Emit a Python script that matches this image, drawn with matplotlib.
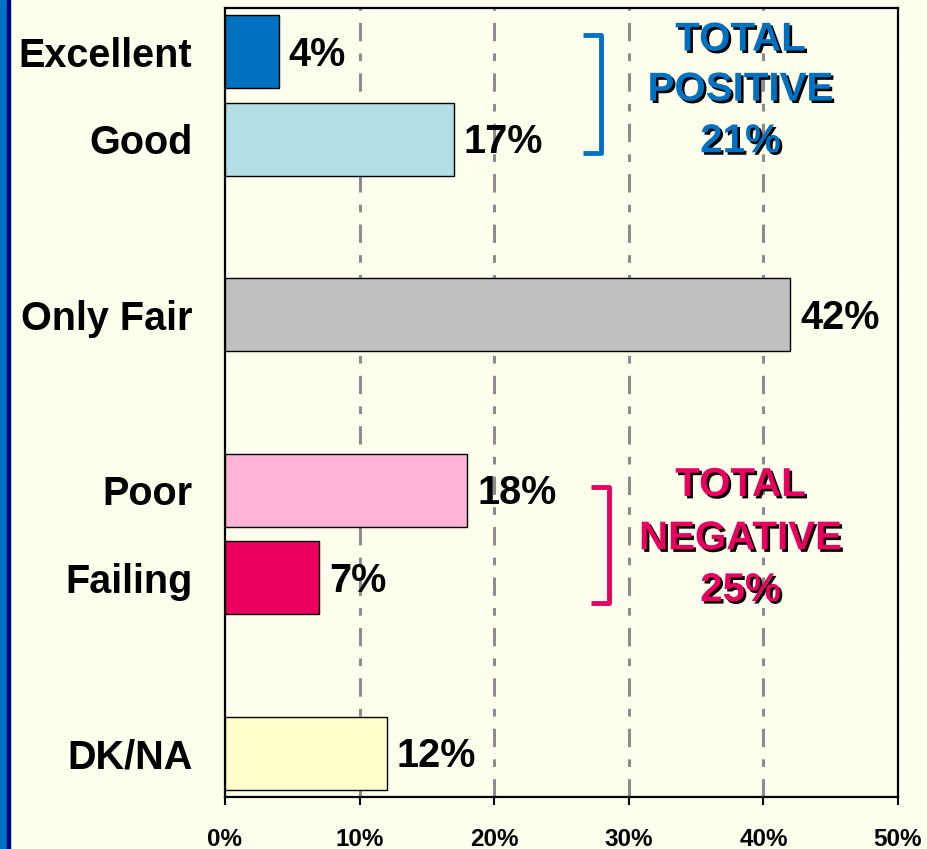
import matplotlib
matplotlib.use("Agg")
import matplotlib.pyplot as plt
import matplotlib.patheffects as pe
from matplotlib.patches import Rectangle

categories = ["Excellent", "Good", "Only Fair", "Poor", "Failing", "DK/NA"]
values = [4, 17, 42, 18, 7, 12]
xticks = [0, 10, 20, 30, 40, 50]
xtick_labels = ["0%", "10%", "20%", "30%", "40%", "50%"]
pos_title = ["TOTAL", "POSITIVE", "21%"]
neg_title = ["TOTAL", "NEGATIVE", "25%"]

# layout / style
ypos = [0, 1, 3, 5, 6, 8]
colors = ["#0070C0", "#B4DEE6", "#C0C0C0", "#FFB4D6", "#EC005E", "#FFFFCC"]
bg = "#FFFFEE"
blue = "#0070C0"
pink = "#E8005F"

plt.rcParams['font.family'] = ['Liberation Sans', 'DejaVu Sans']

fig = plt.figure(figsize=(9.27, 8.49), dpi=100, facecolor=bg)
ax = fig.add_axes([225/927, 1-797/849, (898-225)/927, (797-8)/849])
ax.set_facecolor(bg)

# left border strip
fig.patches.append(Rectangle((0, 0), 7/927, 1, transform=fig.transFigure, color="#0070C0", zorder=0))
fig.patches.append(Rectangle((7/927, 0), 2.5/927, 1, transform=fig.transFigure, color="#000080", zorder=0))

bars = ax.barh(ypos, values, height=0.83, color=colors, edgecolor="black", linewidth=1, zorder=3)
for v, y in zip(values, ypos):
    ax.annotate(f"{v}%", xy=(v, y), xytext=(7, -2), textcoords="offset points",
                ha="left", va="center", fontsize=28.5, fontweight="bold", color="black", zorder=5)

ax.set_xlim(0, 50)
ax.set_ylim(8.5, -0.5)
ax.set_yticks(ypos)
ax.set_yticklabels(categories, fontsize=28.5, fontweight="bold")
ax.tick_params(axis="y", length=0, pad=23.5)
ax.set_xticks(xticks)
ax.set_xticklabels(xtick_labels, fontsize=17.5, fontweight="bold")
ax.tick_params(axis="x", direction="out", length=6, width=1.5, pad=16)

for x in xticks[1:]:
    ax.axvline(x, color="#8C8C8C", linewidth=2.2, dashes=(6, 4, 2.5, 4), zorder=1)

for s in ax.spines.values():
    s.set_color("black")
    s.set_linewidth(1.6)

shadow = [pe.SimplePatchShadow(offset=(1.8, -1.8), shadow_rgbFace="black", alpha=1), pe.Normal()]

for txt, y in zip(pos_title, [-0.14, 0.43, 1.02]):
    ax.text(38.3, y, txt, color=blue, fontsize=29, fontweight="bold", ha="center", va="center",
            path_effects=shadow, zorder=5)
for txt, y in zip(neg_title, [4.94, 5.55, 6.14]):
    ax.text(38.3, y, txt, color=pink, fontsize=29, fontweight="bold", ha="center", va="center",
            path_effects=shadow, zorder=5)

# brackets
ax.plot([26.6, 27.9, 27.9, 26.6], [-0.19, -0.19, 1.15, 1.15], color=blue, linewidth=3.5,
        solid_joinstyle="round", solid_capstyle="butt", zorder=5)
ax.plot([27.2, 28.5, 28.5, 27.2], [4.96, 4.96, 6.29, 6.29], color=pink, linewidth=3.5,
        solid_joinstyle="round", solid_capstyle="butt", zorder=5)

fig.savefig("out.png", dpi=100, facecolor=bg)
